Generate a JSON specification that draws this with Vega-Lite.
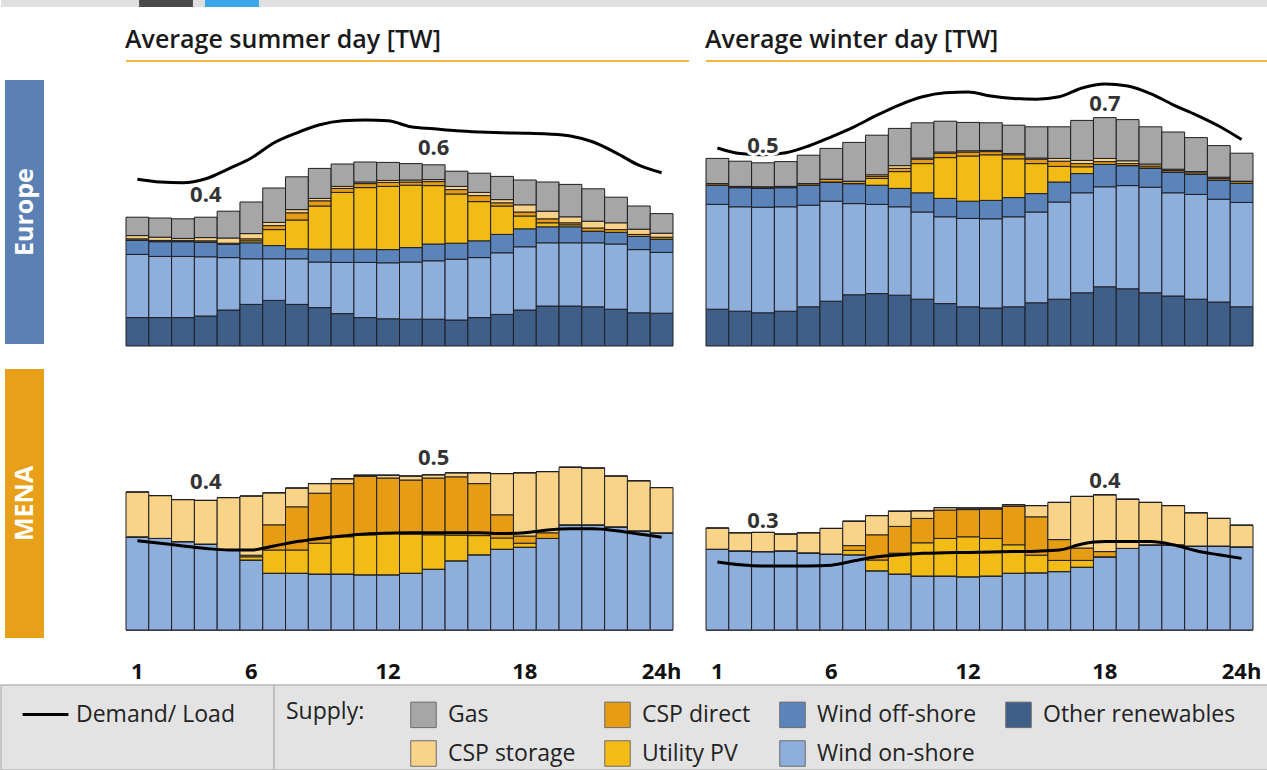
{
  "$schema": "https://vega.github.io/schema/vega-lite/v6.json",
  "background": "white",
  "padding": 0,
  "config": {
    "font": "Open Sans",
    "view": {"stroke": null},
    "legend": {"padding": 0}
  },
  "datasets": {
    "hours": [
      {"region":"Europe","season":"summer","hour":1,"Other renewables":0.071,"Wind on-shore":0.158,"Wind off-shore":0.036,"Utility PV":0,"CSP direct":0.003,"CSP storage":0.008,"Gas":0.046,"demand":0.417},
      {"region":"Europe","season":"summer","hour":2,"Other renewables":0.071,"Wind on-shore":0.153,"Wind off-shore":0.037,"Utility PV":0,"CSP direct":0.003,"CSP storage":0.008,"Gas":0.048,"demand":0.41},
      {"region":"Europe","season":"summer","hour":3,"Other renewables":0.071,"Wind on-shore":0.153,"Wind off-shore":0.037,"Utility PV":0,"CSP direct":0.003,"CSP storage":0.005,"Gas":0.049,"demand":0.408},
      {"region":"Europe","season":"summer","hour":4,"Other renewables":0.075,"Wind on-shore":0.148,"Wind off-shore":0.037,"Utility PV":0,"CSP direct":0.003,"CSP storage":0.008,"Gas":0.051,"demand":0.418},
      {"region":"Europe","season":"summer","hour":5,"Other renewables":0.09,"Wind on-shore":0.131,"Wind off-shore":0.033,"Utility PV":0,"CSP direct":0.003,"CSP storage":0.013,"Gas":0.067,"demand":0.443},
      {"region":"Europe","season":"summer","hour":6,"Other renewables":0.104,"Wind on-shore":0.114,"Wind off-shore":0.04,"Utility PV":0.005,"CSP direct":0.005,"CSP storage":0.013,"Gas":0.079,"demand":0.47},
      {"region":"Europe","season":"summer","hour":7,"Other renewables":0.114,"Wind on-shore":0.104,"Wind off-shore":0.033,"Utility PV":0.04,"CSP direct":0.01,"CSP storage":0.008,"Gas":0.086,"demand":0.508},
      {"region":"Europe","season":"summer","hour":8,"Other renewables":0.104,"Wind on-shore":0.114,"Wind off-shore":0.025,"Utility PV":0.072,"CSP direct":0.018,"CSP storage":0.008,"Gas":0.082,"demand":0.533},
      {"region":"Europe","season":"summer","hour":9,"Other renewables":0.096,"Wind on-shore":0.114,"Wind off-shore":0.032,"Utility PV":0.108,"CSP direct":0.013,"CSP storage":0.006,"Gas":0.075,"demand":0.553},
      {"region":"Europe","season":"summer","hour":10,"Other renewables":0.081,"Wind on-shore":0.128,"Wind off-shore":0.033,"Utility PV":0.142,"CSP direct":0.01,"CSP storage":0.005,"Gas":0.056,"demand":0.563},
      {"region":"Europe","season":"summer","hour":11,"Other renewables":0.071,"Wind on-shore":0.138,"Wind off-shore":0.033,"Utility PV":0.154,"CSP direct":0.01,"CSP storage":0.004,"Gas":0.05,"demand":0.565},
      {"region":"Europe","season":"summer","hour":12,"Other renewables":0.068,"Wind on-shore":0.14,"Wind off-shore":0.033,"Utility PV":0.158,"CSP direct":0.01,"CSP storage":0.005,"Gas":0.045,"demand":0.563},
      {"region":"Europe","season":"summer","hour":13,"Other renewables":0.067,"Wind on-shore":0.143,"Wind off-shore":0.036,"Utility PV":0.156,"CSP direct":0.008,"CSP storage":0.005,"Gas":0.041,"demand":0.548},
      {"region":"Europe","season":"summer","hour":14,"Other renewables":0.067,"Wind on-shore":0.146,"Wind off-shore":0.042,"Utility PV":0.146,"CSP direct":0.01,"CSP storage":0.005,"Gas":0.037,"demand":0.543},
      {"region":"Europe","season":"summer","hour":15,"Other renewables":0.065,"Wind on-shore":0.152,"Wind off-shore":0.04,"Utility PV":0.123,"CSP direct":0.011,"CSP storage":0.008,"Gas":0.038,"demand":0.538},
      {"region":"Europe","season":"summer","hour":16,"Other renewables":0.071,"Wind on-shore":0.15,"Wind off-shore":0.042,"Utility PV":0.098,"CSP direct":0.015,"CSP storage":0.008,"Gas":0.048,"demand":0.535},
      {"region":"Europe","season":"summer","hour":17,"Other renewables":0.079,"Wind on-shore":0.154,"Wind off-shore":0.046,"Utility PV":0.071,"CSP direct":0.008,"CSP storage":0.008,"Gas":0.058,"demand":0.533},
      {"region":"Europe","season":"summer","hour":18,"Other renewables":0.09,"Wind on-shore":0.158,"Wind off-shore":0.045,"Utility PV":0.032,"CSP direct":0.01,"CSP storage":0.018,"Gas":0.062,"demand":0.532},
      {"region":"Europe","season":"summer","hour":19,"Other renewables":0.1,"Wind on-shore":0.158,"Wind off-shore":0.04,"Utility PV":0.01,"CSP direct":0.01,"CSP storage":0.019,"Gas":0.073,"demand":0.53},
      {"region":"Europe","season":"summer","hour":20,"Other renewables":0.1,"Wind on-shore":0.158,"Wind off-shore":0.04,"Utility PV":0.005,"CSP direct":0.005,"CSP storage":0.015,"Gas":0.081,"demand":0.525},
      {"region":"Europe","season":"summer","hour":21,"Other renewables":0.098,"Wind on-shore":0.16,"Wind off-shore":0.029,"Utility PV":0,"CSP direct":0.008,"CSP storage":0.017,"Gas":0.081,"demand":0.51},
      {"region":"Europe","season":"summer","hour":22,"Other renewables":0.092,"Wind on-shore":0.163,"Wind off-shore":0.029,"Utility PV":0,"CSP direct":0.007,"CSP storage":0.017,"Gas":0.064,"demand":0.483},
      {"region":"Europe","season":"summer","hour":23,"Other renewables":0.083,"Wind on-shore":0.158,"Wind off-shore":0.033,"Utility PV":0,"CSP direct":0.005,"CSP storage":0.013,"Gas":0.058,"demand":0.452},
      {"region":"Europe","season":"summer","hour":24,"Other renewables":0.082,"Wind on-shore":0.152,"Wind off-shore":0.033,"Utility PV":0,"CSP direct":0.005,"CSP storage":0.01,"Gas":0.049,"demand":0.433},
      {"region":"Europe","season":"winter","hour":1,"Other renewables":0.092,"Wind on-shore":0.262,"Wind off-shore":0.048,"Utility PV":0,"CSP direct":0.004,"CSP storage":0,"Gas":0.063,"demand":0.495},
      {"region":"Europe","season":"winter","hour":2,"Other renewables":0.087,"Wind on-shore":0.261,"Wind off-shore":0.048,"Utility PV":0,"CSP direct":0.003,"CSP storage":0,"Gas":0.063,"demand":0.481},
      {"region":"Europe","season":"winter","hour":3,"Other renewables":0.083,"Wind on-shore":0.264,"Wind off-shore":0.048,"Utility PV":0,"CSP direct":0.003,"CSP storage":0,"Gas":0.06,"demand":0.478},
      {"region":"Europe","season":"winter","hour":4,"Other renewables":0.087,"Wind on-shore":0.261,"Wind off-shore":0.048,"Utility PV":0,"CSP direct":0.003,"CSP storage":0,"Gas":0.062,"demand":0.483},
      {"region":"Europe","season":"winter","hour":5,"Other renewables":0.098,"Wind on-shore":0.254,"Wind off-shore":0.05,"Utility PV":0,"CSP direct":0.004,"CSP storage":0,"Gas":0.071,"demand":0.5},
      {"region":"Europe","season":"winter","hour":6,"Other renewables":0.112,"Wind on-shore":0.25,"Wind off-shore":0.048,"Utility PV":0,"CSP direct":0.007,"CSP storage":0,"Gas":0.077,"demand":0.523},
      {"region":"Europe","season":"winter","hour":7,"Other renewables":0.128,"Wind on-shore":0.228,"Wind off-shore":0.05,"Utility PV":0,"CSP direct":0.006,"CSP storage":0,"Gas":0.097,"demand":0.548},
      {"region":"Europe","season":"winter","hour":8,"Other renewables":0.131,"Wind on-shore":0.223,"Wind off-shore":0.048,"Utility PV":0.017,"CSP direct":0.005,"CSP storage":0.004,"Gas":0.099,"demand":0.577},
      {"region":"Europe","season":"winter","hour":9,"Other renewables":0.127,"Wind on-shore":0.221,"Wind off-shore":0.046,"Utility PV":0.042,"CSP direct":0.008,"CSP storage":0.007,"Gas":0.093,"demand":0.603},
      {"region":"Europe","season":"winter","hour":10,"Other renewables":0.117,"Wind on-shore":0.218,"Wind off-shore":0.048,"Utility PV":0.073,"CSP direct":0.011,"CSP storage":0.003,"Gas":0.088,"demand":0.623},
      {"region":"Europe","season":"winter","hour":11,"Other renewables":0.106,"Wind on-shore":0.217,"Wind off-shore":0.046,"Utility PV":0.102,"CSP direct":0.011,"CSP storage":0.003,"Gas":0.077,"demand":0.633},
      {"region":"Europe","season":"winter","hour":12,"Other renewables":0.098,"Wind on-shore":0.221,"Wind off-shore":0.043,"Utility PV":0.113,"CSP direct":0.01,"CSP storage":0.003,"Gas":0.071,"demand":0.635},
      {"region":"Europe","season":"winter","hour":13,"Other renewables":0.095,"Wind on-shore":0.223,"Wind off-shore":0.046,"Utility PV":0.114,"CSP direct":0.008,"CSP storage":0.003,"Gas":0.069,"demand":0.625},
      {"region":"Europe","season":"winter","hour":14,"Other renewables":0.098,"Wind on-shore":0.225,"Wind off-shore":0.048,"Utility PV":0.097,"CSP direct":0.01,"CSP storage":0.003,"Gas":0.071,"demand":0.619},
      {"region":"Europe","season":"winter","hour":15,"Other renewables":0.108,"Wind on-shore":0.227,"Wind off-shore":0.046,"Utility PV":0.075,"CSP direct":0.011,"CSP storage":0.003,"Gas":0.078,"demand":0.617},
      {"region":"Europe","season":"winter","hour":16,"Other renewables":0.117,"Wind on-shore":0.243,"Wind off-shore":0.05,"Utility PV":0.039,"CSP direct":0.013,"CSP storage":0.007,"Gas":0.079,"demand":0.623},
      {"region":"Europe","season":"winter","hour":17,"Other renewables":0.133,"Wind on-shore":0.25,"Wind off-shore":0.048,"Utility PV":0.017,"CSP direct":0.008,"CSP storage":0.008,"Gas":0.1,"demand":0.645},
      {"region":"Europe","season":"winter","hour":18,"Other renewables":0.148,"Wind on-shore":0.25,"Wind off-shore":0.056,"Utility PV":0,"CSP direct":0.007,"CSP storage":0.008,"Gas":0.102,"demand":0.655},
      {"region":"Europe","season":"winter","hour":19,"Other renewables":0.143,"Wind on-shore":0.258,"Wind off-shore":0.05,"Utility PV":0,"CSP direct":0.005,"CSP storage":0.007,"Gas":0.103,"demand":0.65},
      {"region":"Europe","season":"winter","hour":20,"Other renewables":0.133,"Wind on-shore":0.264,"Wind off-shore":0.048,"Utility PV":0,"CSP direct":0.005,"CSP storage":0.005,"Gas":0.093,"demand":0.631},
      {"region":"Europe","season":"winter","hour":21,"Other renewables":0.125,"Wind on-shore":0.258,"Wind off-shore":0.052,"Utility PV":0,"CSP direct":0.004,"CSP storage":0.003,"Gas":0.093,"demand":0.603},
      {"region":"Europe","season":"winter","hour":22,"Other renewables":0.117,"Wind on-shore":0.262,"Wind off-shore":0.05,"Utility PV":0,"CSP direct":0.004,"CSP storage":0.003,"Gas":0.085,"demand":0.578},
      {"region":"Europe","season":"winter","hour":23,"Other renewables":0.11,"Wind on-shore":0.257,"Wind off-shore":0.048,"Utility PV":0,"CSP direct":0.004,"CSP storage":0.003,"Gas":0.079,"demand":0.55},
      {"region":"Europe","season":"winter","hour":24,"Other renewables":0.098,"Wind on-shore":0.261,"Wind off-shore":0.048,"Utility PV":0,"CSP direct":0.005,"CSP storage":0,"Gas":0.07,"demand":0.516},
      {"region":"MENA","season":"summer","hour":1,"Other renewables":0,"Wind on-shore":0.233,"Wind off-shore":0,"Utility PV":0,"CSP direct":0,"CSP storage":0.112,"Gas":0,"demand":0.223},
      {"region":"MENA","season":"summer","hour":2,"Other renewables":0,"Wind on-shore":0.229,"Wind off-shore":0,"Utility PV":0,"CSP direct":0,"CSP storage":0.107,"Gas":0,"demand":0.217},
      {"region":"MENA","season":"summer","hour":3,"Other renewables":0,"Wind on-shore":0.221,"Wind off-shore":0,"Utility PV":0,"CSP direct":0,"CSP storage":0.105,"Gas":0,"demand":0.21},
      {"region":"MENA","season":"summer","hour":4,"Other renewables":0,"Wind on-shore":0.215,"Wind off-shore":0,"Utility PV":0,"CSP direct":0,"CSP storage":0.109,"Gas":0,"demand":0.204},
      {"region":"MENA","season":"summer","hour":5,"Other renewables":0,"Wind on-shore":0.2,"Wind off-shore":0,"Utility PV":0,"CSP direct":0,"CSP storage":0.131,"Gas":0,"demand":0.2},
      {"region":"MENA","season":"summer","hour":6,"Other renewables":0,"Wind on-shore":0.175,"Wind off-shore":0,"Utility PV":0.008,"CSP direct":0.004,"CSP storage":0.148,"Gas":0,"demand":0.2},
      {"region":"MENA","season":"summer","hour":7,"Other renewables":0,"Wind on-shore":0.142,"Wind off-shore":0,"Utility PV":0.058,"CSP direct":0.063,"CSP storage":0.08,"Gas":0,"demand":0.21},
      {"region":"MENA","season":"summer","hour":8,"Other renewables":0,"Wind on-shore":0.142,"Wind off-shore":0,"Utility PV":0.058,"CSP direct":0.108,"CSP storage":0.047,"Gas":0,"demand":0.221},
      {"region":"MENA","season":"summer","hour":9,"Other renewables":0,"Wind on-shore":0.14,"Wind off-shore":0,"Utility PV":0.077,"CSP direct":0.125,"CSP storage":0.024,"Gas":0,"demand":0.229},
      {"region":"MENA","season":"summer","hour":10,"Other renewables":0,"Wind on-shore":0.14,"Wind off-shore":0,"Utility PV":0.093,"CSP direct":0.133,"CSP storage":0.012,"Gas":0,"demand":0.235},
      {"region":"MENA","season":"summer","hour":11,"Other renewables":0,"Wind on-shore":0.138,"Wind off-shore":0,"Utility PV":0.1,"CSP direct":0.146,"CSP storage":0.003,"Gas":0,"demand":0.24},
      {"region":"MENA","season":"summer","hour":12,"Other renewables":0,"Wind on-shore":0.138,"Wind off-shore":0,"Utility PV":0.104,"CSP direct":0.138,"CSP storage":0.007,"Gas":0,"demand":0.242},
      {"region":"MENA","season":"summer","hour":13,"Other renewables":0,"Wind on-shore":0.142,"Wind off-shore":0,"Utility PV":0.098,"CSP direct":0.135,"CSP storage":0.01,"Gas":0,"demand":0.243},
      {"region":"MENA","season":"summer","hour":14,"Other renewables":0,"Wind on-shore":0.152,"Wind off-shore":0,"Utility PV":0.086,"CSP direct":0.142,"CSP storage":0.008,"Gas":0,"demand":0.243},
      {"region":"MENA","season":"summer","hour":15,"Other renewables":0,"Wind on-shore":0.173,"Wind off-shore":0,"Utility PV":0.064,"CSP direct":0.146,"CSP storage":0.01,"Gas":0,"demand":0.243},
      {"region":"MENA","season":"summer","hour":16,"Other renewables":0,"Wind on-shore":0.188,"Wind off-shore":0,"Utility PV":0.048,"CSP direct":0.13,"CSP storage":0.027,"Gas":0,"demand":0.243},
      {"region":"MENA","season":"summer","hour":17,"Other renewables":0,"Wind on-shore":0.202,"Wind off-shore":0,"Utility PV":0.028,"CSP direct":0.058,"CSP storage":0.103,"Gas":0,"demand":0.241},
      {"region":"MENA","season":"summer","hour":18,"Other renewables":0,"Wind on-shore":0.207,"Wind off-shore":0,"Utility PV":0.01,"CSP direct":0.018,"CSP storage":0.158,"Gas":0,"demand":0.243},
      {"region":"MENA","season":"summer","hour":19,"Other renewables":0,"Wind on-shore":0.229,"Wind off-shore":0,"Utility PV":0,"CSP direct":0.014,"CSP storage":0.153,"Gas":0,"demand":0.25},
      {"region":"MENA","season":"summer","hour":20,"Other renewables":0,"Wind on-shore":0.263,"Wind off-shore":0,"Utility PV":0,"CSP direct":0,"CSP storage":0.144,"Gas":0,"demand":0.253},
      {"region":"MENA","season":"summer","hour":21,"Other renewables":0,"Wind on-shore":0.263,"Wind off-shore":0,"Utility PV":0,"CSP direct":0,"CSP storage":0.142,"Gas":0,"demand":0.253},
      {"region":"MENA","season":"summer","hour":22,"Other renewables":0,"Wind on-shore":0.258,"Wind off-shore":0,"Utility PV":0,"CSP direct":0,"CSP storage":0.127,"Gas":0,"demand":0.248},
      {"region":"MENA","season":"summer","hour":23,"Other renewables":0,"Wind on-shore":0.248,"Wind off-shore":0,"Utility PV":0,"CSP direct":0,"CSP storage":0.125,"Gas":0,"demand":0.24},
      {"region":"MENA","season":"summer","hour":24,"Other renewables":0,"Wind on-shore":0.243,"Wind off-shore":0,"Utility PV":0,"CSP direct":0,"CSP storage":0.113,"Gas":0,"demand":0.232},
      {"region":"MENA","season":"winter","hour":1,"Other renewables":0,"Wind on-shore":0.202,"Wind off-shore":0,"Utility PV":0,"CSP direct":0,"CSP storage":0.053,"Gas":0,"demand":0.17},
      {"region":"MENA","season":"winter","hour":2,"Other renewables":0,"Wind on-shore":0.198,"Wind off-shore":0,"Utility PV":0,"CSP direct":0,"CSP storage":0.045,"Gas":0,"demand":0.163},
      {"region":"MENA","season":"winter","hour":3,"Other renewables":0,"Wind on-shore":0.196,"Wind off-shore":0,"Utility PV":0,"CSP direct":0,"CSP storage":0.048,"Gas":0,"demand":0.16},
      {"region":"MENA","season":"winter","hour":4,"Other renewables":0,"Wind on-shore":0.198,"Wind off-shore":0,"Utility PV":0,"CSP direct":0,"CSP storage":0.042,"Gas":0,"demand":0.16},
      {"region":"MENA","season":"winter","hour":5,"Other renewables":0,"Wind on-shore":0.193,"Wind off-shore":0,"Utility PV":0,"CSP direct":0,"CSP storage":0.05,"Gas":0,"demand":0.16},
      {"region":"MENA","season":"winter","hour":6,"Other renewables":0,"Wind on-shore":0.19,"Wind off-shore":0,"Utility PV":0,"CSP direct":0,"CSP storage":0.064,"Gas":0,"demand":0.162},
      {"region":"MENA","season":"winter","hour":7,"Other renewables":0,"Wind on-shore":0.188,"Wind off-shore":0,"Utility PV":0.011,"CSP direct":0.012,"CSP storage":0.061,"Gas":0,"demand":0.173},
      {"region":"MENA","season":"winter","hour":8,"Other renewables":0,"Wind on-shore":0.148,"Wind off-shore":0,"Utility PV":0.027,"CSP direct":0.063,"CSP storage":0.048,"Gas":0,"demand":0.183},
      {"region":"MENA","season":"winter","hour":9,"Other renewables":0,"Wind on-shore":0.14,"Wind off-shore":0,"Utility PV":0.052,"CSP direct":0.067,"CSP storage":0.038,"Gas":0,"demand":0.188},
      {"region":"MENA","season":"winter","hour":10,"Other renewables":0,"Wind on-shore":0.135,"Wind off-shore":0,"Utility PV":0.083,"CSP direct":0.061,"CSP storage":0.019,"Gas":0,"demand":0.192},
      {"region":"MENA","season":"winter","hour":11,"Other renewables":0,"Wind on-shore":0.135,"Wind off-shore":0,"Utility PV":0.094,"CSP direct":0.071,"CSP storage":0.006,"Gas":0,"demand":0.193},
      {"region":"MENA","season":"winter","hour":12,"Other renewables":0,"Wind on-shore":0.133,"Wind off-shore":0,"Utility PV":0.1,"CSP direct":0.068,"CSP storage":0.004,"Gas":0,"demand":0.194},
      {"region":"MENA","season":"winter","hour":13,"Other renewables":0,"Wind on-shore":0.135,"Wind off-shore":0,"Utility PV":0.094,"CSP direct":0.073,"CSP storage":0.003,"Gas":0,"demand":0.195},
      {"region":"MENA","season":"winter","hour":14,"Other renewables":0,"Wind on-shore":0.142,"Wind off-shore":0,"Utility PV":0.071,"CSP direct":0.096,"CSP storage":0.004,"Gas":0,"demand":0.196},
      {"region":"MENA","season":"winter","hour":15,"Other renewables":0,"Wind on-shore":0.143,"Wind off-shore":0,"Utility PV":0.044,"CSP direct":0.096,"CSP storage":0.028,"Gas":0,"demand":0.197},
      {"region":"MENA","season":"winter","hour":16,"Other renewables":0,"Wind on-shore":0.146,"Wind off-shore":0,"Utility PV":0.028,"CSP direct":0.052,"CSP storage":0.093,"Gas":0,"demand":0.2},
      {"region":"MENA","season":"winter","hour":17,"Other renewables":0,"Wind on-shore":0.157,"Wind off-shore":0,"Utility PV":0.017,"CSP direct":0.031,"CSP storage":0.129,"Gas":0,"demand":0.215},
      {"region":"MENA","season":"winter","hour":18,"Other renewables":0,"Wind on-shore":0.183,"Wind off-shore":0,"Utility PV":0,"CSP direct":0.013,"CSP storage":0.142,"Gas":0,"demand":0.221},
      {"region":"MENA","season":"winter","hour":19,"Other renewables":0,"Wind on-shore":0.204,"Wind off-shore":0,"Utility PV":0,"CSP direct":0,"CSP storage":0.123,"Gas":0,"demand":0.221},
      {"region":"MENA","season":"winter","hour":20,"Other renewables":0,"Wind on-shore":0.213,"Wind off-shore":0,"Utility PV":0,"CSP direct":0,"CSP storage":0.106,"Gas":0,"demand":0.221},
      {"region":"MENA","season":"winter","hour":21,"Other renewables":0,"Wind on-shore":0.213,"Wind off-shore":0,"Utility PV":0,"CSP direct":0,"CSP storage":0.098,"Gas":0,"demand":0.213},
      {"region":"MENA","season":"winter","hour":22,"Other renewables":0,"Wind on-shore":0.21,"Wind off-shore":0,"Utility PV":0,"CSP direct":0,"CSP storage":0.083,"Gas":0,"demand":0.198},
      {"region":"MENA","season":"winter","hour":23,"Other renewables":0,"Wind on-shore":0.21,"Wind off-shore":0,"Utility PV":0,"CSP direct":0,"CSP storage":0.069,"Gas":0,"demand":0.188},
      {"region":"MENA","season":"winter","hour":24,"Other renewables":0,"Wind on-shore":0.208,"Wind off-shore":0,"Utility PV":0,"CSP direct":0,"CSP storage":0.054,"Gas":0,"demand":0.179}
    ],
    "labels": [
      {"region":"Europe","season":"summer","hour":4,"TW":0.378,"label":"0.4"},
      {"region":"Europe","season":"summer","hour":14,"TW":0.495,"label":"0.6"},
      {"region":"Europe","season":"winter","hour":3,"TW":0.5,"label":"0.5"},
      {"region":"Europe","season":"winter","hour":18,"TW":0.605,"label":"0.7"},
      {"region":"MENA","season":"summer","hour":4,"TW":0.37,"label":"0.4"},
      {"region":"MENA","season":"summer","hour":14,"TW":0.43,"label":"0.5"},
      {"region":"MENA","season":"winter","hour":3,"TW":0.272,"label":"0.3"},
      {"region":"MENA","season":"winter","hour":18,"TW":0.372,"label":"0.4"}
    ]
  },
  "spacing": 21,
  "vconcat": [
    {
      "width": 1267, "height": 7,
      "data": {"values": [{}]},
      "view": {"fill": "#dfdfdf"},
      "layer": [
        {"mark": {"type": "rect", "color": "#4a4a4a"},
         "encoding": {
           "x": {"datum": 0.109, "type": "quantitative", "scale": {"domain": [0, 1], "nice": false, "zero": false}, "axis": null},
           "x2": {"datum": 0.1515},
           "y": {"datum": 0, "type": "quantitative", "scale": {"domain": [0, 1], "nice": false}, "axis": null},
           "y2": {"datum": 1}}},
        {"mark": {"type": "rect", "color": "#38a8e8"},
         "encoding": {
           "x": {"datum": 0.161, "type": "quantitative"},
           "x2": {"datum": 0.2036},
           "y": {"datum": 0, "type": "quantitative"},
           "y2": {"datum": 1}}}
      ]
    },
    {
      "spacing": 2,
      "vconcat": [
        {
          "spacing": 17,
          "vconcat": [
            {
              "bounds": "flush",
              "spacing": 17,
              "hconcat": [
                {
                  "width": 108, "height": 285,
                  "data": {"values": [{"region": "Europe"}]},
                  "layer": [
                    {"mark": {"type": "rect", "color": "#5b80b4"},
                     "encoding": {
                       "x": {"datum": 0.037, "type": "quantitative", "scale": {"domain": [0, 1], "nice": false, "zero": false}, "axis": null},
                       "x2": {"datum": 0.398},
                       "y": {"datum": 0.933, "type": "quantitative", "scale": {"domain": [0, 1], "nice": false, "zero": false}, "axis": null},
                       "y2": {"datum": 0.007}}},
                    {"mark": {"type": "text", "angle": 270, "fontSize": 25, "fontWeight": "bold", "color": "white", "align": "center", "baseline": "middle"},
                     "encoding": {
                       "x": {"datum": 0.218, "type": "quantitative"},
                       "y": {"datum": 0.47, "type": "quantitative"},
                       "text": {"field": "region"}}}
                  ]
                },
                {
                  "width": 563, "height": 285,
                  "title": {"text": "Average summer day [TW]", "anchor": "start", "fontSize": 25, "fontWeight": 600, "color": "#1a1a1a", "offset": 7},
                  "layer": [
                    {"data": {"values": [{}]}, "mark": {"type": "rule", "color": "#f3b640", "strokeWidth": 2},
                     "encoding": {"y": {"datum": 0.7125, "type": "quantitative", "axis": null}}},
                    {"data": {"name": "hours"},
                     "transform": [
                       {"filter": "datum.region == 'Europe' && datum.season == 'summer'"},
                       {"fold": ["Other renewables", "Wind on-shore", "Wind off-shore", "Utility PV", "CSP direct", "CSP storage", "Gas"], "as": ["source", "TW"]},
                       {"calculate": "indexof(['Other renewables','Wind on-shore','Wind off-shore','Utility PV','CSP direct','CSP storage','Gas'], datum.source)", "as": "stack_rank"}
                     ],
                     "mark": {"type": "bar", "stroke": "#1e1e24", "strokeWidth": 1},
                     "encoding": {
                       "x": {"field": "hour", "type": "ordinal", "scale": {"range": [0, 547], "paddingInner": 0, "paddingOuter": 0}, "axis": null},
                       "y": {"field": "TW", "type": "quantitative", "stack": "zero", "scale": {"domain": [0, 0.7125], "nice": false}, "axis": null},
                       "color": {"field": "source", "type": "nominal",
                         "scale": {"domain": ["Other renewables", "Wind on-shore", "Wind off-shore", "Utility PV", "CSP direct", "CSP storage", "Gas"], "range": ["#3f5e88", "#8eaedb", "#5b84ba", "#f2bb16", "#e69c14", "#f9d488", "#a6a6a6"]},
                         "legend": {"orient": "none", "legendX": 285, "legendY": 701, "title": "Supply:", "titleOrient": "left", "titleAnchor": "start", "titleBaseline": "top", "titleFontSize": 23, "titleFontWeight": "normal", "titleColor": "#222222", "titlePadding": 45, "columns": 4, "columnPadding": 26, "rowPadding": 8, "symbolType": "square", "symbolSize": 650, "symbolStrokeColor": "#6b6b6b", "symbolStrokeWidth": 1, "labelFontSize": 23, "labelColor": "#222222", "labelOffset": 11, "labelLimit": 300,
                           "values": ["Gas", "CSP storage", "CSP direct", "Utility PV", "Wind off-shore", "Wind on-shore", "Other renewables"]}},
                       "order": {"field": "stack_rank", "type": "quantitative"}
                     }},
                    {"data": {"name": "hours"},
                     "transform": [{"filter": "datum.region == 'Europe' && datum.season == 'summer'"}],
                     "mark": {"type": "line", "interpolate": "monotone", "strokeWidth": 3},
                     "encoding": {
                       "x": {"field": "hour", "type": "ordinal"},
                       "y": {"field": "demand", "type": "quantitative", "axis": null},
                       "stroke": {"datum": "Demand/ Load", "type": "nominal", "scale": {"range": ["#000000"]},
                         "legend": {"orient": "none", "legendX": 20, "legendY": 690, "title": null, "symbolType": "stroke", "symbolSize": 2100, "symbolStrokeWidth": 3, "labelFontSize": 23, "labelColor": "#222222", "labelOffset": 6}}
                     }},
                    {"data": {"name": "labels"},
                     "transform": [{"filter": "datum.region == 'Europe' && datum.season == 'summer'"}],
                     "mark": {"type": "text", "fontSize": 22, "fontWeight": "bold", "color": "white", "stroke": "white", "strokeWidth": 6, "strokeJoin": "round"},
                     "encoding": {"x": {"field": "hour", "type": "ordinal"}, "y": {"field": "TW", "type": "quantitative", "axis": null}, "text": {"field": "label"}}},
                    {"data": {"name": "labels"},
                     "transform": [{"filter": "datum.region == 'Europe' && datum.season == 'summer'"}],
                     "mark": {"type": "text", "fontSize": 22, "fontWeight": "bold", "color": "#333333"},
                     "encoding": {"x": {"field": "hour", "type": "ordinal"}, "y": {"field": "TW", "type": "quantitative", "axis": null}, "text": {"field": "label"}}}
                  ]
                },
                {
                  "width": 562, "height": 285,
                  "title": {"text": "Average winter day [TW]", "anchor": "start", "fontSize": 25, "fontWeight": 600, "color": "#1a1a1a", "offset": 7},
                  "layer": [
                    {"data": {"values": [{}]}, "mark": {"type": "rule", "color": "#f3b640", "strokeWidth": 2},
                     "encoding": {"y": {"datum": 0.7125, "type": "quantitative", "axis": null}}},
                    {"data": {"name": "hours"},
                     "transform": [
                       {"filter": "datum.region == 'Europe' && datum.season == 'winter'"},
                       {"fold": ["Other renewables", "Wind on-shore", "Wind off-shore", "Utility PV", "CSP direct", "CSP storage", "Gas"], "as": ["source", "TW"]},
                       {"calculate": "indexof(['Other renewables','Wind on-shore','Wind off-shore','Utility PV','CSP direct','CSP storage','Gas'], datum.source)", "as": "stack_rank"}
                     ],
                     "mark": {"type": "bar", "stroke": "#1e1e24", "strokeWidth": 1},
                     "encoding": {
                       "x": {"field": "hour", "type": "ordinal", "scale": {"range": [0, 547], "paddingInner": 0, "paddingOuter": 0}, "axis": null},
                       "y": {"field": "TW", "type": "quantitative", "stack": "zero", "scale": {"domain": [0, 0.7125], "nice": false}, "axis": null},
                       "color": {"field": "source", "type": "nominal",
                         "scale": {"domain": ["Other renewables", "Wind on-shore", "Wind off-shore", "Utility PV", "CSP direct", "CSP storage", "Gas"], "range": ["#3f5e88", "#8eaedb", "#5b84ba", "#f2bb16", "#e69c14", "#f9d488", "#a6a6a6"]},
                         "legend": {"orient": "none", "legendX": 285, "legendY": 701, "title": "Supply:", "titleOrient": "left", "titleAnchor": "start", "titleBaseline": "top", "titleFontSize": 23, "titleFontWeight": "normal", "titleColor": "#222222", "titlePadding": 45, "columns": 4, "columnPadding": 26, "rowPadding": 8, "symbolType": "square", "symbolSize": 650, "symbolStrokeColor": "#6b6b6b", "symbolStrokeWidth": 1, "labelFontSize": 23, "labelColor": "#222222", "labelOffset": 11, "labelLimit": 300,
                           "values": ["Gas", "CSP storage", "CSP direct", "Utility PV", "Wind off-shore", "Wind on-shore", "Other renewables"]}},
                       "order": {"field": "stack_rank", "type": "quantitative"}
                     }},
                    {"data": {"name": "hours"},
                     "transform": [{"filter": "datum.region == 'Europe' && datum.season == 'winter'"}],
                     "mark": {"type": "line", "interpolate": "monotone", "strokeWidth": 3},
                     "encoding": {
                       "x": {"field": "hour", "type": "ordinal"},
                       "y": {"field": "demand", "type": "quantitative", "axis": null},
                       "stroke": {"datum": "Demand/ Load", "type": "nominal", "scale": {"range": ["#000000"]},
                         "legend": {"orient": "none", "legendX": 20, "legendY": 690, "title": null, "symbolType": "stroke", "symbolSize": 2100, "symbolStrokeWidth": 3, "labelFontSize": 23, "labelColor": "#222222", "labelOffset": 6}}
                     }},
                    {"data": {"name": "labels"},
                     "transform": [{"filter": "datum.region == 'Europe' && datum.season == 'winter'"}],
                     "mark": {"type": "text", "fontSize": 22, "fontWeight": "bold", "color": "white", "stroke": "white", "strokeWidth": 6, "strokeJoin": "round"},
                     "encoding": {"x": {"field": "hour", "type": "ordinal"}, "y": {"field": "TW", "type": "quantitative", "axis": null}, "text": {"field": "label"}}},
                    {"data": {"name": "labels"},
                     "transform": [{"filter": "datum.region == 'Europe' && datum.season == 'winter'"}],
                     "mark": {"type": "text", "fontSize": 22, "fontWeight": "bold", "color": "#333333"},
                     "encoding": {"x": {"field": "hour", "type": "ordinal"}, "y": {"field": "TW", "type": "quantitative", "axis": null}, "text": {"field": "label"}}}
                  ]
                }
              ]
            },
            {
              "bounds": "flush",
              "spacing": 17,
              "hconcat": [
                {
                  "width": 108, "height": 266,
                  "data": {"values": [{"region": "MENA"}]},
                  "layer": [
                    {"mark": {"type": "rect", "color": "#e8a01a"},
                     "encoding": {
                       "x": {"datum": 0.037, "type": "quantitative", "scale": {"domain": [0, 1], "nice": false, "zero": false}, "axis": null},
                       "x2": {"datum": 0.398},
                       "y": {"datum": 0.981, "type": "quantitative", "scale": {"domain": [0, 1], "nice": false, "zero": false}, "axis": null},
                       "y2": {"datum": -0.03}}},
                    {"mark": {"type": "text", "angle": 270, "fontSize": 25, "fontWeight": "bold", "color": "white", "align": "center", "baseline": "middle"},
                     "encoding": {
                       "x": {"datum": 0.218, "type": "quantitative"},
                       "y": {"datum": 0.476, "type": "quantitative"},
                       "text": {"field": "region"}}}
                  ]
                },
                {
                  "width": 563, "height": 266,
                  "layer": [
                    {"data": {"name": "hours"},
                     "transform": [
                       {"filter": "datum.region == 'MENA' && datum.season == 'summer'"},
                       {"fold": ["Other renewables", "Wind on-shore", "Wind off-shore", "Utility PV", "CSP direct", "CSP storage", "Gas"], "as": ["source", "TW"]},
                       {"calculate": "indexof(['Other renewables','Wind on-shore','Wind off-shore','Utility PV','CSP direct','CSP storage','Gas'], datum.source)", "as": "stack_rank"}
                     ],
                     "mark": {"type": "bar", "stroke": "#1e1e24", "strokeWidth": 1},
                     "encoding": {
                       "x": {"field": "hour", "type": "ordinal", "scale": {"range": [0, 547], "paddingInner": 0, "paddingOuter": 0},
                         "axis": {"values": [1, 6, 12, 18, 24], "labelExpr": "datum.value == 24 ? '24h' : datum.label", "domain": false, "ticks": false, "labelPadding": 31, "labelFontSize": 22, "labelFontWeight": "bold", "labelColor": "#111111", "labelAngle": 0, "title": null, "grid": false}},
                       "y": {"field": "TW", "type": "quantitative", "stack": "zero", "scale": {"domain": [0, 0.665], "nice": false}, "axis": null},
                       "color": {"field": "source", "type": "nominal",
                         "scale": {"domain": ["Other renewables", "Wind on-shore", "Wind off-shore", "Utility PV", "CSP direct", "CSP storage", "Gas"], "range": ["#3f5e88", "#8eaedb", "#5b84ba", "#f2bb16", "#e69c14", "#f9d488", "#a6a6a6"]},
                         "legend": {"orient": "none", "legendX": 285, "legendY": 701, "title": "Supply:", "titleOrient": "left", "titleAnchor": "start", "titleBaseline": "top", "titleFontSize": 23, "titleFontWeight": "normal", "titleColor": "#222222", "titlePadding": 45, "columns": 4, "columnPadding": 26, "rowPadding": 8, "symbolType": "square", "symbolSize": 650, "symbolStrokeColor": "#6b6b6b", "symbolStrokeWidth": 1, "labelFontSize": 23, "labelColor": "#222222", "labelOffset": 11, "labelLimit": 300,
                           "values": ["Gas", "CSP storage", "CSP direct", "Utility PV", "Wind off-shore", "Wind on-shore", "Other renewables"]}},
                       "order": {"field": "stack_rank", "type": "quantitative"}
                     }},
                    {"data": {"name": "hours"},
                     "transform": [{"filter": "datum.region == 'MENA' && datum.season == 'summer'"}],
                     "mark": {"type": "line", "interpolate": "monotone", "strokeWidth": 3},
                     "encoding": {
                       "x": {"field": "hour", "type": "ordinal"},
                       "y": {"field": "demand", "type": "quantitative", "axis": null},
                       "stroke": {"datum": "Demand/ Load", "type": "nominal", "scale": {"range": ["#000000"]},
                         "legend": {"orient": "none", "legendX": 20, "legendY": 690, "title": null, "symbolType": "stroke", "symbolSize": 2100, "symbolStrokeWidth": 3, "labelFontSize": 23, "labelColor": "#222222", "labelOffset": 6}}
                     }},
                    {"data": {"name": "labels"},
                     "transform": [{"filter": "datum.region == 'MENA' && datum.season == 'summer'"}],
                     "mark": {"type": "text", "fontSize": 22, "fontWeight": "bold", "color": "#333333"},
                     "encoding": {"x": {"field": "hour", "type": "ordinal"}, "y": {"field": "TW", "type": "quantitative", "axis": null}, "text": {"field": "label"}}}
                  ]
                },
                {
                  "width": 562, "height": 266,
                  "layer": [
                    {"data": {"name": "hours"},
                     "transform": [
                       {"filter": "datum.region == 'MENA' && datum.season == 'winter'"},
                       {"fold": ["Other renewables", "Wind on-shore", "Wind off-shore", "Utility PV", "CSP direct", "CSP storage", "Gas"], "as": ["source", "TW"]},
                       {"calculate": "indexof(['Other renewables','Wind on-shore','Wind off-shore','Utility PV','CSP direct','CSP storage','Gas'], datum.source)", "as": "stack_rank"}
                     ],
                     "mark": {"type": "bar", "stroke": "#1e1e24", "strokeWidth": 1},
                     "encoding": {
                       "x": {"field": "hour", "type": "ordinal", "scale": {"range": [0, 547], "paddingInner": 0, "paddingOuter": 0},
                         "axis": {"values": [1, 6, 12, 18, 24], "labelExpr": "datum.value == 24 ? '24h' : datum.label", "domain": false, "ticks": false, "labelPadding": 31, "labelFontSize": 22, "labelFontWeight": "bold", "labelColor": "#111111", "labelAngle": 0, "title": null, "grid": false}},
                       "y": {"field": "TW", "type": "quantitative", "stack": "zero", "scale": {"domain": [0, 0.665], "nice": false}, "axis": null},
                       "color": {"field": "source", "type": "nominal",
                         "scale": {"domain": ["Other renewables", "Wind on-shore", "Wind off-shore", "Utility PV", "CSP direct", "CSP storage", "Gas"], "range": ["#3f5e88", "#8eaedb", "#5b84ba", "#f2bb16", "#e69c14", "#f9d488", "#a6a6a6"]},
                         "legend": {"orient": "none", "legendX": 285, "legendY": 701, "title": "Supply:", "titleOrient": "left", "titleAnchor": "start", "titleBaseline": "top", "titleFontSize": 23, "titleFontWeight": "normal", "titleColor": "#222222", "titlePadding": 45, "columns": 4, "columnPadding": 26, "rowPadding": 8, "symbolType": "square", "symbolSize": 650, "symbolStrokeColor": "#6b6b6b", "symbolStrokeWidth": 1, "labelFontSize": 23, "labelColor": "#222222", "labelOffset": 11, "labelLimit": 300,
                           "values": ["Gas", "CSP storage", "CSP direct", "Utility PV", "Wind off-shore", "Wind on-shore", "Other renewables"]}},
                       "order": {"field": "stack_rank", "type": "quantitative"}
                     }},
                    {"data": {"name": "hours"},
                     "transform": [{"filter": "datum.region == 'MENA' && datum.season == 'winter'"}],
                     "mark": {"type": "line", "interpolate": "monotone", "strokeWidth": 3},
                     "encoding": {
                       "x": {"field": "hour", "type": "ordinal"},
                       "y": {"field": "demand", "type": "quantitative", "axis": null},
                       "stroke": {"datum": "Demand/ Load", "type": "nominal", "scale": {"range": ["#000000"]},
                         "legend": {"orient": "none", "legendX": 20, "legendY": 690, "title": null, "symbolType": "stroke", "symbolSize": 2100, "symbolStrokeWidth": 3, "labelFontSize": 23, "labelColor": "#222222", "labelOffset": 6}}
                     }},
                    {"data": {"name": "labels"},
                     "transform": [{"filter": "datum.region == 'MENA' && datum.season == 'winter'"}],
                     "mark": {"type": "text", "fontSize": 22, "fontWeight": "bold", "color": "#333333"},
                     "encoding": {"x": {"field": "hour", "type": "ordinal"}, "y": {"field": "TW", "type": "quantitative", "axis": null}, "text": {"field": "label"}}}
                  ]
                }
              ]
            }
          ]
        },
        {
          "bounds": "flush",
          "spacing": 0,
          "hconcat": [
            {"width": 273, "height": 85, "data": {"values": []}, "mark": "point", "encoding": {},
             "view": {"fill": "#e3e3e3", "stroke": "#b8b8b8", "strokeWidth": 1.5}},
            {"width": 994, "height": 85, "data": {"values": []}, "mark": "point", "encoding": {},
             "view": {"fill": "#e3e3e3", "stroke": "#b8b8b8", "strokeWidth": 1.5}}
          ]
        }
      ]
    }
  ]
}
